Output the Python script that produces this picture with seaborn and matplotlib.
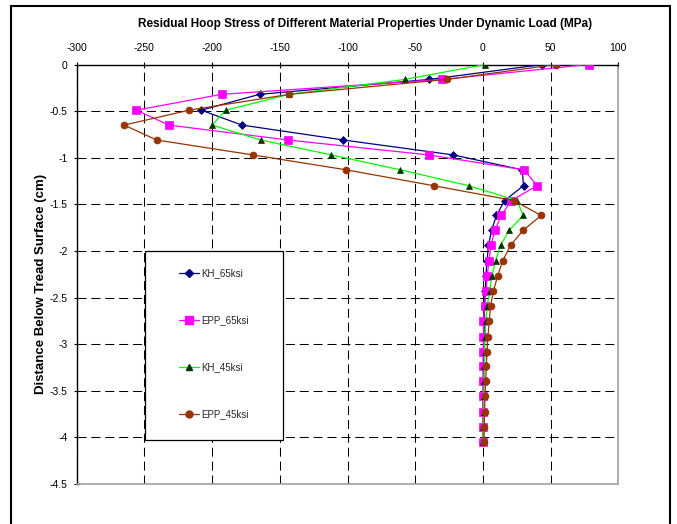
import numpy as np
import pandas as pd
import matplotlib
matplotlib.use("Agg")
import matplotlib.pyplot as plt
import seaborn as sns
from matplotlib.patches import Rectangle
from matplotlib.lines import Line2D

# Data
depth = [0, -0.16, -0.32, -0.49, -0.65, -0.81, -0.97, -1.13, -1.30, -1.46, -1.62, -1.78, -1.94,
         -2.11, -2.27, -2.43, -2.59, -2.75, -2.92, -3.08, -3.24, -3.40, -3.56, -3.73, -3.89, -4.05]

kh_65 = [44, -39.5, -165, -208, -178, -103, -22, 29, 30, 16, 10, 6.4, 4.1,
         3.0, 2.2, 1.7, 1.2, 1.0, 0.8, 0.6, 0.5, 0.4, 0.3, 0.3, 0.2, 0.2]
epp_65 = [78, -30, -193, -256, -232, -144, -40, 30.5, 40, 21, 13.5, 8.9, 5.9,
          4.4, 3.2, 2.4, 1.2, 0.4, 0.4, 0.2, 0.0, 0.0, -0.2, -0.2, 0.0, 0.2]
kh_45 = [1.7, -57.6, -143, -190, -200, -164, -112, -61, -10.6, 25.4, 29.6, 19.4, 13,
         9.3, 6.6, 4.9, 3.2, 2.2, 1.7, 1.3, 1.0, 0.8, 0.6, 0.5, 0.4, 0.3]
epp_45 = [54, -26.6, -143, -217, -265, -241, -170, -101, -36.5, 23, 43, 29.6, 20.4,
          14.5, 10.8, 7.8, 5.6, 4.7, 3.7, 3.0, 2.5, 2.0, 1.5, 1.2, 1.0, 0.8]

series_names = ["KH_65ksi", "EPP_65ksi", "KH_45ksi", "EPP_45ksi"]
series_values = [kh_65, epp_65, kh_45, epp_45]

xticks = [-300, -250, -200, -150, -100, -50, 0, 50, 100]
xtick_labels = ["-300", "-250", "-200", "-150", "-100", "-50", "0", "50", "100"]
yticks = [0, -0.5, -1, -1.5, -2, -2.5, -3, -3.5, -4, -4.5]
ytick_labels = ["0", "-0.5", "-1", "-1.5", "-2", "-2.5", "-3", "-3.5", "-4", "-4.5"]

# Styles
line_colors = ["#000080", "#FF00FF", "#00FF00", "#993300"]
marker_colors = ["#000080", "#FF00FF", "#003300", "#993300"]
markers = ["D", "s", "^", "o"]
marker_sizes = [4, 5.2, 4.8, 5]

sns.set_theme(style="white")
plt.rcParams["font.family"] = ["Liberation Sans", "DejaVu Sans"]
plt.rcParams["lines.scale_dashes"] = False
narrow = ["Liberation Sans Narrow", "Liberation Sans", "DejaVu Sans"]

fig = plt.figure(figsize=(6.77, 5.24), dpi=100)
ax = fig.add_axes([0.1134, 0.0765, 0.7999, 0.8004])

# Build long table and draw each series
df = pd.DataFrame({
    "depth": depth * len(series_names),
    "stress": sum(series_values, []),
    "series": np.repeat(series_names, len(depth)),
})

for i, name in enumerate(series_names):
    sub = df[df["series"] == name]
    sns.lineplot(data=sub, x="stress", y="depth", sort=False, estimator=None,
                 color=line_colors[i], marker=markers[i], markersize=marker_sizes[i],
                 markerfacecolor=marker_colors[i], markeredgecolor=marker_colors[i],
                 markeredgewidth=0.5, linewidth=0.9, ax=ax, legend=False, zorder=4)

ax.set_xlim(-300, 100)
ax.set_ylim(-4.5, 0)
ax.xaxis.tick_top()
ax.set_xticks(xticks)
ax.set_xticklabels(xtick_labels, family=narrow)
ax.set_yticks(yticks)
ax.set_yticklabels(ytick_labels, family=narrow)
ax.tick_params(axis="both", direction="inout", length=5, width=0.8, colors="black", labelsize=7.5)
ax.tick_params(axis="x", pad=6, top=True, bottom=False)
ax.tick_params(axis="y", pad=4, left=True)
ax.set_xlabel("")
ax.set_ylabel("")

ax.grid(True, color="black", linestyle=(0, (6.5, 3.5)), linewidth=0.75)
ax.set_axisbelow(True)
for side in ["top", "left"]:
    ax.spines[side].set_color("black")
    ax.spines[side].set_linewidth(1.0)
for side in ["right", "bottom"]:
    ax.spines[side].set_color("#a0a0a0")
    ax.spines[side].set_linewidth(1.2)

# Legend box
ax.add_patch(Rectangle((-249.5, -4.03), 101.5, 2.03, facecolor="white",
                       edgecolor="black", linewidth=0.9, zorder=3))
handles = [Line2D([], [], color=line_colors[i], marker=markers[i], markersize=marker_sizes[i],
                  markerfacecolor=marker_colors[i], markeredgecolor=marker_colors[i],
                  linewidth=0.9) for i in range(len(series_names))]
leg = ax.legend(handles, series_names, loc="upper left",
                bbox_to_anchor=(179 / 677, 1 - 268.5 / 524), bbox_transform=fig.transFigure,
                frameon=False, borderpad=0, borderaxespad=0, handlelength=2.1,
                handletextpad=0.2, labelspacing=3.8, fontsize=7)
leg.set_zorder(5)

# Titles
fig.text(365 / 677, 1 - 23.5 / 524,
         "Residual Hoop Stress of Different Material Properties Under Dynamic Load (MPa)",
         ha="center", va="center", fontsize=8.5, fontweight="bold", family=narrow, color="black")
fig.text(41.5 / 677, 1 - 284 / 524, "Distance Below Tread Surface (cm)",
         ha="center", va="center", rotation=90, fontsize=9.5, fontweight="bold", color="black")

# Outer chart border
fig.add_artist(Rectangle((11 / 677, -0.02), 659 / 677, 1.02 - 6 / 524, transform=fig.transFigure,
                         fill=False, edgecolor="black", linewidth=1.5))

fig.savefig("out.png", dpi=100)
